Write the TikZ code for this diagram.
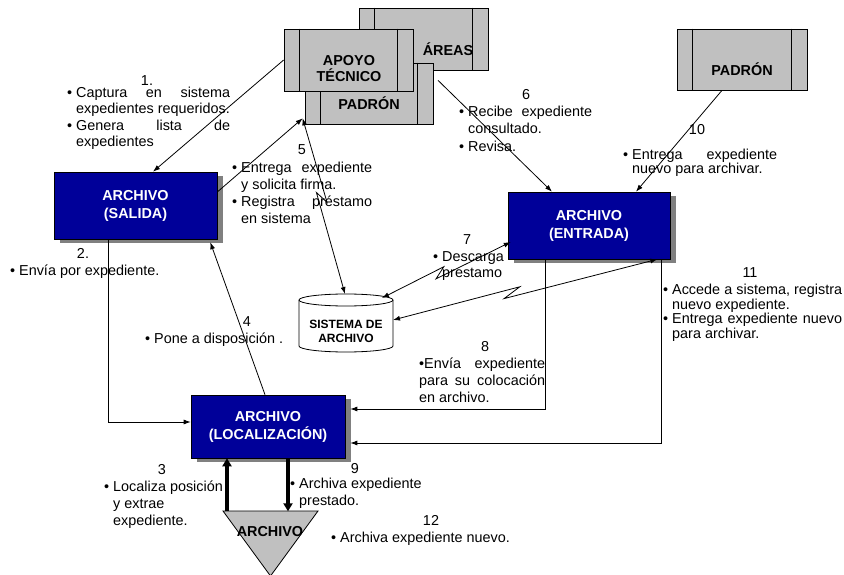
\documentclass[tikz,border=0pt]{standalone}
\usepackage{fontspec}
\setmainfont{Liberation Sans}
\usetikzlibrary{calc,arrows.meta,shadows}

\definecolor{boxblue}{RGB}{0,0,153}
\definecolor{procgray}{RGB}{192,192,192}
\definecolor{shadowgray}{RGB}{128,128,128}

% a line set to a fixed width, spaces stretched
\newcommand{\jline}[2]{\makebox[#1pt][s]{#2}}
% hanging bullet
\newcommand{\bul}{\llap{\textbullet\hspace{4pt}}}
% data link with a lightning break in the middle, arrows at both ends
\newcommand{\zlink}[3]{%
  \draw[conn,{Latex[length=7pt,width=5pt]}-{Latex[length=7pt,width=5pt]}]
    (#1) -- ($(#1)!0.45!(#2)!#3pt!(#2)!4pt!90:(#2)$)
         -- ($(#1)!0.45!(#2)!-#3pt!(#2)!4pt!-90:(#2)$) -- (#2);}
% inner bars of a predefined-process box
\newcommand{\procbars}[1]{%
  \draw[line width=0.7pt]
    ([xshift=16pt]#1.north west) -- ([xshift=16pt]#1.south west)
    ([xshift=-16pt]#1.north east) -- ([xshift=-16pt]#1.south east);}

\tikzset{
  conn/.style={line width=0.8pt, black},
  arr/.style={-{Latex[length=7pt,width=5pt]}},
  thickarr/.style={line width=3.2pt, -{Triangle[length=8pt,width=9pt]}},
  bluebox/.style={draw=black, line width=0.6pt, fill=boxblue, text=white,
    font=\bfseries\fontsize{14.4}{18}\selectfont, align=center, inner sep=0pt,
    drop shadow={shadow xshift=6pt, shadow yshift=-4pt, fill=shadowgray, opacity=1}},
  procbox/.style={draw=black, fill=procgray, line width=0.7pt, inner sep=0pt},
  boldlbl/.style={inner sep=0pt, font=\bfseries\fontsize{14.4}{16}\selectfont, align=center},
  txt/.style={anchor=base west, inner sep=0pt, font=\fontsize{14.4}{16.5}\selectfont},
  num/.style={anchor=base, inner sep=0pt, font=\fontsize{14.4}{16.5}\selectfont},
}

\begin{document}
\begin{tikzpicture}[x=1pt,y=-1pt]
\fill[white] (0,0) rectangle (844,575);
\useasboundingbox (0,0) rectangle (844,575);

% archive stations
\node[bluebox, minimum width=163pt, minimum height=67pt] (sal) at (135.5,205.5) {ARCHIVO\\(SALIDA)};
\node[bluebox, minimum width=162pt, minimum height=67pt] (ent) at (589,225.5) {ARCHIVO\\(ENTRADA)};
\node[bluebox, minimum width=154pt, minimum height=63pt] (loc) at (268,426.5) {ARCHIVO\\(LOCALIZACIÓN)};

% stacked process boxes at the top
\node[procbox, minimum width=129pt, minimum height=62pt] (areas) at (423.5,39) {};
\procbars{areas}
\node[boldlbl] (areasT) at (448,49) {ÁREAS};
\node[procbox, minimum width=128pt, minimum height=61pt] (padm) at (369,93.5) {};
\procbars{padm}
\node[boldlbl] (padmT) at (369,103) {PADRÓN};
\node[procbox, minimum width=129pt, minimum height=62pt] (apoyo) at (348.5,60) {};
\procbars{apoyo}
\node[boldlbl] (apoyoT) at (349,69) {APOYO\\TÉCNICO};
\node[procbox, minimum width=130pt, minimum height=61pt] (padr) at (742,59.5) {};
\procbars{padr}
\node[boldlbl] (padrT) at (742,69) {PADRÓN};

% database cylinder
\draw[line width=0.8pt, fill=white] (299,300) -- (299,346)
  arc[start angle=180, end angle=360, x radius=47pt, y radius=6pt] -- (393,300)
  arc[start angle=0, end angle=180, x radius=47pt, y radius=6pt] -- cycle;
\draw[line width=0.8pt] (299,300) arc[start angle=180, end angle=360, x radius=47pt, y radius=6pt];
\node[inner sep=0pt, font=\bfseries\fontsize{12}{14}\selectfont, align=center] (sys) at (346,331) {SISTEMA DE\\ARCHIVO};

% storage triangle
\draw[line width=0.8pt, fill=procgray] (223,511) -- (318,511) -- (270.5,576) -- cycle;
\node[boldlbl] (triT) at (270,532) {ARCHIVO};

% attachment points
\coordinate (padmJ) at ($(padm.south west)+(-2,-6)$);
\coordinate (sysTop) at (345,294);
\coordinate (sysNE) at (382,298);
\coordinate (sysE) at (393,320);
\coordinate (entW) at ($(ent.west)+(3,16.5)$);
\coordinate (entSE) at ($(ent.south east)+(-13,0)$);
\coordinate (triL) at ($(loc.south)+(-41,53)$);
\coordinate (triR) at ($(loc.south)+(20,53)$);

% connectors
\draw[conn,arr] (apoyo.west) -- ($(sal.north)+(17.5,0)$);
\draw[conn,arr] ($(sal.east)+(0,-13.5)$) -- (padmJ);
\draw[conn,arr] ($(loc.north)+(-3,0)$) -- ($(sal.south east)+(-7,3)$);
\draw[conn,arr] ($(sal.south)+(-27.5,0)$) |- ($(loc.west)+(0,-4.5)$);
\draw[conn,arr] ($(areas.south)+(14.5,10)$) -- ($(ent.north)+(-37,0)$);
\draw[conn,arr] ($(padr.south)+(-20,0)$) -- ($(ent.north)+(47,0)$);
\draw[conn,arr] ($(ent.south)+(-44,0)$) |- ($(loc.east)+(5,-17.5)$);
\draw[conn,arr] ($(ent.south east)+(-9,0)$) |- ($(loc.east)+(5,16.5)$);
\zlink{padmJ}{sysTop}{6}
\zlink{sysNE}{entW}{6}
\zlink{sysE}{entSE}{9}
\draw[thickarr] (triL) -- ($(loc.south)+(-41,0)$);
\draw[thickarr] ($(loc.south)+(20,0)$) -- (triR);

% step descriptions
\node[num] (n1) at (147,85.5) {1.};
\node[txt] (b1) at (76,97.5) {\vtop{\hbox{\bul\jline{154}{Captura en sistema}}\hbox{expedientes requeridos.}\hbox{\bul\jline{154}{Genera lista de}}\hbox{expedientes}}};

\node[num] (n2) at (83,258.5) {2.};
\node[txt] (b2) at (19,275.5) {\bul Envía por expediente.};

\node[num] (n3) at (162,474.5) {3};
\node[txt, font=\fontsize{14.4}{17}\selectfont] (b3) at (113,491.5) {\vtop{\hbox{\bul Localiza posición}\hbox{y extrae}\hbox{expediente.}}};

\node[num] (n4) at (247,326.5) {4};
\node[txt] (b4) at (154,343.5) {\bul Pone a disposición .};

\node[num] (n5) at (302,154.5) {5};
\node[txt, font=\fontsize{14.4}{17}\selectfont] (b5) at (241,172.5) {\vtop{\hbox{\bul\jline{131}{Entrega expediente}}\hbox{y solicita firma.}\hbox{\bul\jline{131}{Registra préstamo}}\hbox{en sistema}}};

\node[num] (n6) at (526,99.5) {6};
\node[txt, font=\fontsize{14.4}{17.5}\selectfont] (b6) at (468,116.5) {\vtop{\hbox{\bul\jline{124}{Recibe expediente}}\hbox{consultado.}\hbox{\bul Revisa.}}};

\node[num] (n7) at (467,244.5) {7};
\node[txt] (b7) at (442,261.5) {\vtop{\hbox{\bul Descarga}\hbox{prestamo}}};

\node[num] (n8) at (485,351.5) {8};
\node[txt, font=\fontsize{14.4}{17}\selectfont] (b8) at (419,368.5) {\vtop{\hbox{\jline{126}{\textbullet Envía expediente}}\hbox{\jline{126}{para su colocación}}\hbox{en archivo.}}};

\node[num] (n9) at (355,473.5) {9};
\node[txt] (b9) at (299,488.5) {\vtop{\hbox{\bul Archiva expediente}\hbox{prestado.}}};

\node[num] (n10) at (697,134.5) {10};
\node[txt, font=\fontsize{14.4}{14.5}\selectfont] (b10) at (632,159.5) {\vtop{\hbox{\bul\jline{145}{Entrega expediente}}\hbox{nuevo para archivar.}}};

\node[num] (n11) at (750,277.5) {11};
\node[txt, font=\fontsize{14.4}{14.5}\selectfont] (b11) at (672,294.5) {\vtop{\hbox{\bul\jline{170}{Accede a sistema, registra}}\hbox{nuevo expediente.}\hbox{\bul\jline{170}{Entrega expediente nuevo}}\hbox{para archivar.}}};

\node[num] (n12) at (431,525.5) {12};
\node[txt] (b12) at (340,542.5) {\bul Archiva expediente nuevo.};
\end{tikzpicture}
\end{document}
